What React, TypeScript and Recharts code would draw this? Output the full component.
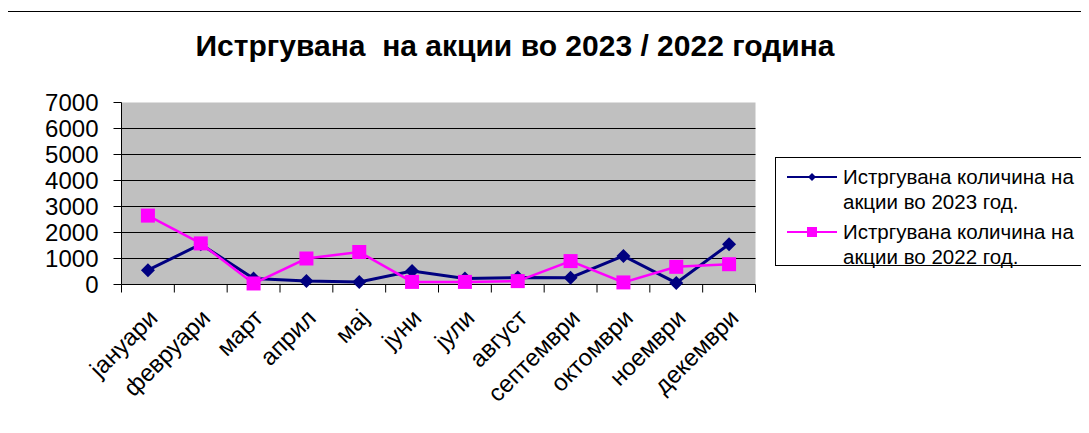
import React from 'react';
import { LineChart, Line, XAxis, YAxis, CartesianGrid, Legend } from 'recharts';

const months = [
  'јануари', 'февруари', 'март', 'април', 'мај', 'јуни',
  'јули', 'август', 'септември', 'октомври', 'ноември', 'декември',
];
const traded2023 = [550, 1550, 230, 130, 100, 520, 230, 270, 260, 1100, 60, 1550];
const traded2022 = [2650, 1580, 40, 1000, 1250, 100, 100, 130, 900, 80, 680, 780];
const yTicks = [0, 1000, 2000, 3000, 4000, 5000, 6000, 7000];
const gridValues = [1000, 2000, 3000, 4000, 5000, 6000];

const label2023 = ['Истргувана количина на', 'акции во 2023 год.'];
const label2022 = ['Истргувана количина на', 'акции во 2022 год.'];

const data = months.map((m, i) => ({
  month: m,
  y2023: traded2023[i],
  y2022: traded2022[i],
}));

const W = 1081;
const H = 425;
// half-pixel offsets keep the 1px grid lines crisp black
const margin = { top: 94.5, right: 333.5, bottom: 28.5, left: 33.5 };
const plotW = W - margin.left - 80 - margin.right;
const step = plotW / months.length;

const NAVY = '#000080';
const MAGENTA = '#FF00FF';
const FONT = '"Liberation Sans", Arial, sans-serif';

const Diamond = ({ cx, cy, r, fill }: any) => (
  <path d={`M${cx},${cy - r}L${cx + r},${cy}L${cx},${cy + r}L${cx - r},${cy}Z`} fill={fill} />
);

const Square = ({ cx, cy, r, fill }: any) => (
  <rect x={cx - r} y={cy - r} width={r * 2} height={r * 2} fill={fill} />
);

const MonthTick = (props: any) => {
  const { x, y, payload, index } = props;
  const tx = x + 11;
  const ty = y + 35;
  return (
    <g>
      <line x1={x - step / 2} x2={x - step / 2} y1={y} y2={y + 8} stroke="#000" />
      {index === months.length - 1 && (
        <line x1={x + step / 2} x2={x + step / 2} y1={y} y2={y + 8} stroke="#000" />
      )}
      <text
        x={tx}
        y={ty}
        transform={`rotate(-45, ${tx}, ${ty})`}
        textAnchor="end"
        fontSize={24}
        fontFamily={FONT}
        fill="#000"
      >
        {payload.value}
      </text>
    </g>
  );
};

const LegendBox = () => {
  const items = [
    { lines: label2023, color: NAVY, marker: 'diamond' },
    { lines: label2022, color: MAGENTA, marker: 'square' },
  ];
  return (
    <div
      style={{
        border: '1px solid #000',
        background: '#fff',
        width: 314,
        height: 109,
        boxSizing: 'border-box',
        padding: '6px 0 0 11px',
        fontFamily: FONT,
        fontSize: 20.5,
        lineHeight: '25px',
        color: '#000',
      }}
    >
      {items.map((it, i) => (
        <div key={i} style={{ display: 'flex', alignItems: 'flex-start', marginBottom: 5 }}>
          <svg width={56} height={25} style={{ flex: 'none' }}>
            <line x1={0} x2={50} y1={13} y2={13} stroke={it.color} strokeWidth={2} />
            {it.marker === 'diamond' ? (
              <Diamond cx={25} cy={13} r={4} fill={it.color} />
            ) : (
              <Square cx={25} cy={13} r={5} fill={it.color} />
            )}
          </svg>
          <div>
            {it.lines.map((l, j) => (
              <div key={j}>{l}</div>
            ))}
          </div>
        </div>
      ))}
    </div>
  );
};

export default function App() {
  return (
    <div style={{ position: 'relative', width: W, height: H, fontFamily: FONT }}>
      <div
        style={{
          position: 'absolute',
          left: -1,
          top: 3,
          width: 1090,
          height: 430,
          borderLeft: '1px solid #000',
          borderTop: '1px solid #000',
        }}
      />
      <div
        style={{
          position: 'absolute',
          left: 0,
          top: 23,
          width: 1014,
          textAlign: 'center',
          fontWeight: 'bold',
          fontSize: 30,
          lineHeight: '30px',
          color: '#000',
        }}
      >
        Истргувана&nbsp; на акции во 2023 / 2022 година
      </div>
      <LineChart width={W} height={H} data={data} margin={margin}>
        <CartesianGrid
          vertical={false}
          horizontalValues={gridValues}
          stroke="#000"
          strokeOpacity={1}
          fill="#C0C0C0"
          fillOpacity={1}
        />
        <XAxis
          dataKey="month"
          interval={0}
          height={120}
          padding={{ left: step / 2, right: step / 2 }}
          axisLine={{ stroke: '#000' }}
          tickLine={false}
          tickSize={0}
          tickMargin={0}
          tick={<MonthTick />}
        />
        <XAxis
          xAxisId="top"
          dataKey="month"
          orientation="top"
          height={0}
          axisLine={{ stroke: '#808080' }}
          tick={false}
          tickLine={false}
        />
        <YAxis
          domain={[0, 7000]}
          ticks={yTicks}
          interval={0}
          width={80}
          axisLine={{ stroke: '#000' }}
          tickLine={{ stroke: '#000' }}
          tickSize={8}
          tickMargin={15}
          tick={{ fontSize: 24, fill: '#000', fontFamily: FONT }}
        />
        <YAxis
          yAxisId="r"
          orientation="right"
          domain={[0, 7000]}
          width={0}
          axisLine={{ stroke: '#808080' }}
          tick={false}
          tickLine={false}
        />
        <Legend
          layout="vertical"
          align="center"
          verticalAlign="middle"
          content={<LegendBox />}
          wrapperStyle={{ position: 'absolute', left: 767, top: 149, width: 314, height: 109 }}
        />
        <Line
          type="linear"
          dataKey="y2023"
          stroke={NAVY}
          strokeWidth={3}
          isAnimationActive={false}
          activeDot={false}
          dot={(p: any) => <Diamond key={`d${p.index}`} cx={p.cx} cy={p.cy} r={7} fill={NAVY} />}
        />
        <Line
          type="linear"
          dataKey="y2022"
          stroke={MAGENTA}
          strokeWidth={2.5}
          isAnimationActive={false}
          activeDot={false}
          dot={(p: any) => <Square key={`s${p.index}`} cx={p.cx} cy={p.cy} r={7} fill={MAGENTA} />}
        />
      </LineChart>
    </div>
  );
}
